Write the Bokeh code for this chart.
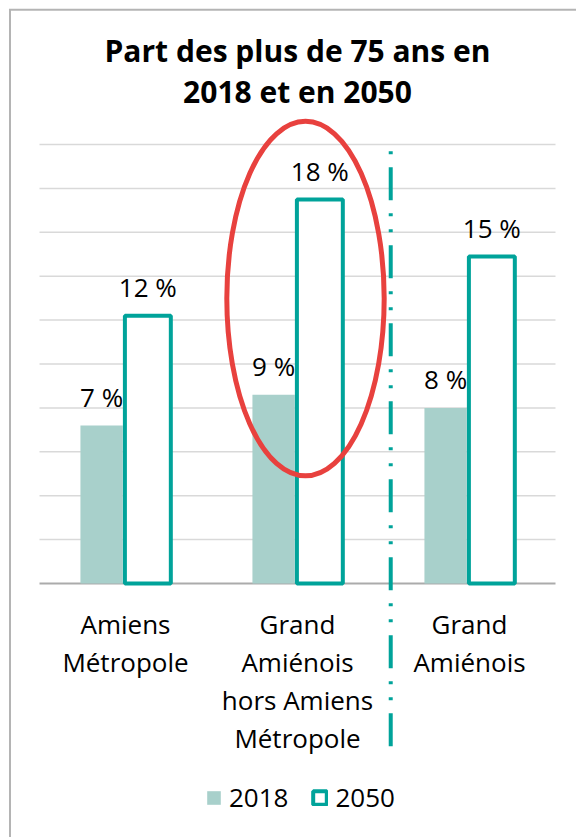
import numpy as np
from bokeh.plotting import figure
from bokeh.models import Range1d, ColumnDataSource, Legend, LegendItem
from bokeh.core.properties import value
from bokeh.embed import file_html
from bokeh.resources import INLINE

# ---------------- data ----------------
TITLE_LINES = ["Part des plus de 75 ans en", "2018 et en 2050"]
CATEGORIES = ["Amiens Métropole", "Grand Amiénois hors Amiens Métropole", "Grand Amiénois"]
CATEGORY_LINES = [["Amiens", "Métropole"],
                  ["Grand", "Amiénois", "hors Amiens", "Métropole"],
                  ["Grand", "Amiénois"]]
SERIES = ["2018", "2050"]
VALUES_2018 = [7.2, 8.6, 8.0]
VALUES_2050 = [12.2, 17.5, 14.9]
LABELS_2018 = ["7 %", "9 %", "8 %"]
LABELS_2050 = ["12 %", "18 %", "15 %"]
GRID_TICKS = [2, 4, 6, 8, 10, 12, 14, 16, 18, 20]
HIGHLIGHT_CATEGORY = 1      # circled category
SEPARATOR_AFTER = 2         # dash-dot separator after the first two categories

# ---------------- layout / style ----------------
W, H = 576, 837
PLOT_LEFT_PX = 39
PX_PER_CAT = 172.0
BASELINE_PX = 583
PX_PER_PCT = 21.95
BORDER_X_PX = 9.5
BORDER_Y_PX = 9.2

C_2018 = "#a8d0cb"
C_2050 = "#00a39a"
C_RED = "#e8413e"
C_GRID = "#d9d9d9"
C_AXIS = "#ababab"
C_BORDER = "#b4b4b4"
FONT = "Open Sans"

x_start = -PLOT_LEFT_PX / PX_PER_CAT
x_end = x_start + W / PX_PER_CAT
y_end = BASELINE_PX / PX_PER_PCT
y_start = y_end - H / PX_PER_PCT


def ydata(canvas_px):
    return (BASELINE_PX - canvas_px) / PX_PER_PCT


def xdata(canvas_px):
    return (canvas_px - PLOT_LEFT_PX) / PX_PER_CAT


p = figure(width=W, height=H, x_range=Range1d(x_start, x_end), y_range=Range1d(y_start, y_end),
           output_backend="svg", toolbar_location=None, min_border=0,
           x_axis_location=None, y_axis_location=None, outline_line_color=None,
           background_fill_color="white", border_fill_color="white")
p.title = None
p.xgrid.visible = False
p.ygrid.visible = False

n = len(CATEGORIES)
centers = np.arange(n) + 0.5

# gridlines and baseline
p.segment(x0=[0] * len(GRID_TICKS), x1=[n] * len(GRID_TICKS), y0=GRID_TICKS, y1=GRID_TICKS,
          line_color=C_GRID, line_width=1.5)
p.segment(x0=[0], x1=[n], y0=[0], y1=[0], line_color=C_AXIS, line_width=2)

# bars
OFF_2018, W_2018 = -0.139, 0.246
OFF_2050, W_2050 = 0.130, 0.267
src = ColumnDataSource(dict(
    x18=centers + OFF_2018, x50=centers + OFF_2050,
    v18=VALUES_2018, v50=VALUES_2050, l18=LABELS_2018, l50=LABELS_2050))
r18 = p.vbar(x="x18", top="v18", bottom=0, width=W_2018, source=src,
             fill_color=C_2018, line_color=None)
r50 = p.vbar(x="x50", top="v50", bottom=0, width=W_2050, source=src,
             fill_color="white", line_color=C_2050, line_width=4)

# value labels
p.text(x="x18", y="v18", text="l18", source=src, y_offset=-28.5, text_align="center",
       text_baseline="alphabetic", text_font=value(FONT), text_font_size="26px", text_color="#000000")
p.text(x="x50", y="v50", text="l50", source=src, y_offset=-28.5, text_align="center",
       text_baseline="alphabetic", text_font=value(FONT), text_font_size="26px", text_color="#000000")

# separator
sep_x = SEPARATOR_AFTER + 0.042
p.segment(x0=[sep_x], x1=[sep_x], y0=[ydata(150.7)], y1=[ydata(752.7)],
          line_color=C_2050, line_width=4, line_dash="3 13 33 13 3 13")

# highlight ellipse
p.ellipse(x=[HIGHLIGHT_CATEGORY + 0.5465], y=[12.98], width=0.915, height=16.15,
          fill_color=None, line_color=C_RED, line_width=5)

# category labels
lx, ltxt, loff = [], [], []
for i, lines in enumerate(CATEGORY_LINES):
    for j, t in enumerate(lines):
        lx.append(centers[i])
        ltxt.append(t)
        loff.append(40.5 + 37.9 * j)
p.text(x=lx, y=[0] * len(lx), text=ltxt, y_offset=loff, text_align="center",
       text_baseline="alphabetic", text_font=value(FONT), text_font_size="26px", text_color="#000000")

# title
p.text(x=[n / 2] * 2, y=[y_end] * 2, text=TITLE_LINES, y_offset=[50.3, 91], text_align="center",
       text_baseline="alphabetic", text_font=value(FONT), text_font_size="30px",
       text_font_style="bold", text_color="#000000")

# chart border (top/left)
bx, by = xdata(BORDER_X_PX), ydata(BORDER_Y_PX)
p.segment(x0=[bx - 0.006, bx], x1=[x_end, bx], y0=[by, by], y1=[by, y_start],
          line_color=C_BORDER, line_width=2)

# legend
legend = Legend(items=[LegendItem(label=SERIES[0], renderers=[r18]),
                       LegendItem(label=SERIES[1], renderers=[r50])],
                orientation="horizontal", location=(205, 22), glyph_width=17, glyph_height=17,
                label_standoff=7, spacing=23, padding=0, margin=0, border_line_color=None,
                background_fill_alpha=0, label_text_font=FONT, label_text_font_size="26px",
                label_text_color="#000000", label_height=17)
p.add_layout(legend)

open("out.html", "w").write(file_html(p, INLINE))
